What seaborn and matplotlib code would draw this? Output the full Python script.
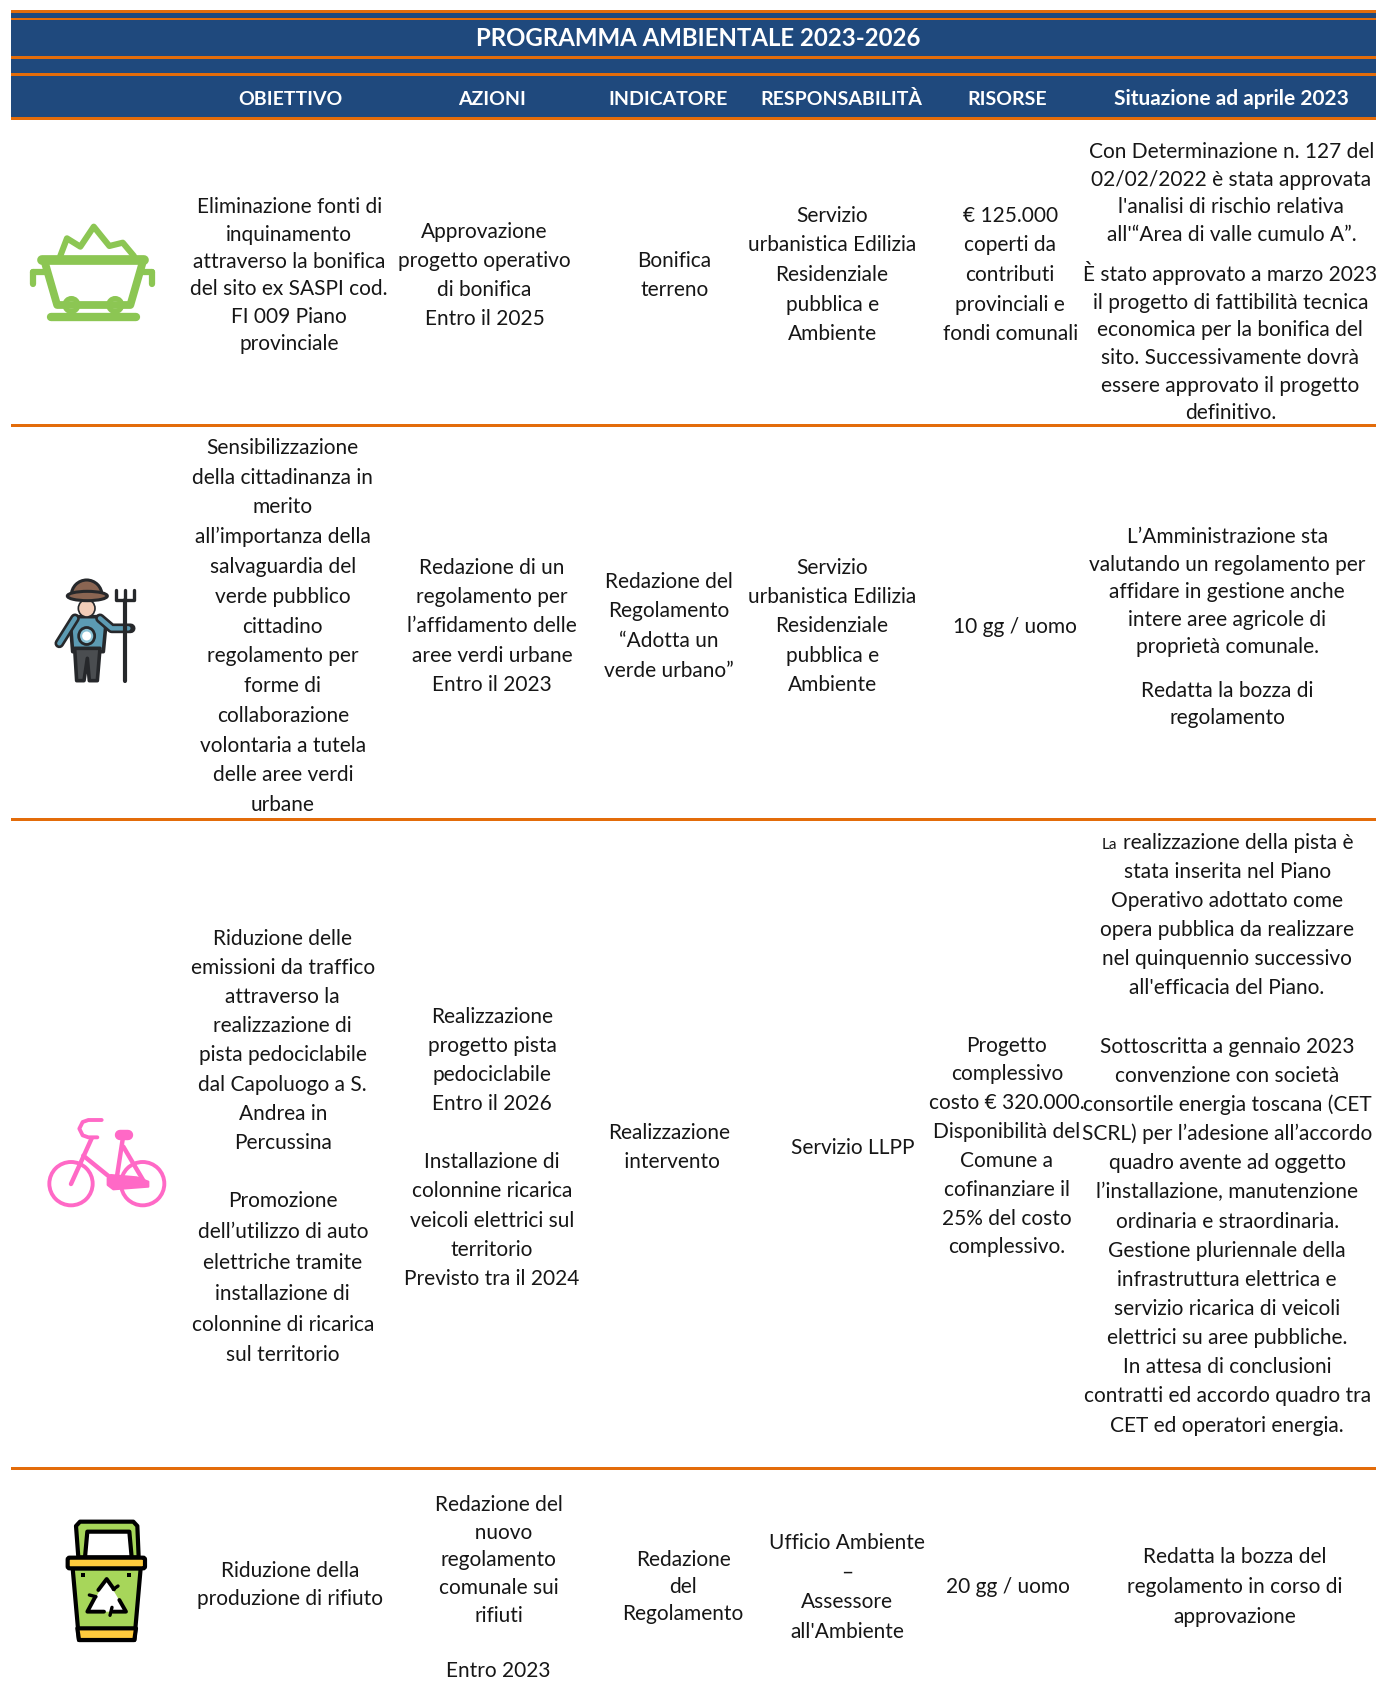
import matplotlib
matplotlib.use('Agg')
import matplotlib.pyplot as plt
from matplotlib.patches import Circle, Ellipse, FancyBboxPatch, Polygon, Rectangle, Wedge
import seaborn as sns

NAVY = '#1F497D'
ORANGE = '#E36C0A'
INK = '#161616'
S = 1376 / 1275  # layout numbers below were read on the 1275 wide view

title = 'PROGRAMMA AMBIENTALE 2023-2026'
headers = ['OBIETTIVO', 'AZIONI', 'INDICATORE', 'RESPONSABILITÀ', 'RISORSE', 'Situazione ad aprile 2023']
header_x = [269, 456, 619, 780, 933, 1141]
header_size = [14, 14, 14, 14, 14, 15]

obiettivo = [
    'Eliminazione fonti di\ninquinamento\nattraverso la bonifica\ndel sito ex SASPI cod.\nFI 009 Piano\nprovinciale',
    'Sensibilizzazione\ndella cittadinanza in\nmerito\nall’importanza della\nsalvaguardia del\nverde pubblico\ncittadino\nregolamento per\nforme di\ncollaborazione\nvolontaria a tutela\ndelle aree verdi\nurbane',
    'Riduzione delle\nemissioni da traffico\nattraverso la\nrealizzazione di\npista pedociclabile\ndal Capoluogo a S.\nAndrea in\nPercussina',
    'Promozione\ndell’utilizzo di auto\nelettriche tramite\ninstallazione di\ncolonnine di ricarica\nsul territorio',
    'Riduzione della\nproduzione di rifiuto',
]
azioni = [
    'Approvazione\nprogetto operativo\ndi bonifica\nEntro il 2025',
    'Redazione di un\nregolamento per\nl’affidamento delle\naree verdi urbane\nEntro il 2023',
    'Realizzazione\nprogetto pista\npedociclabile\nEntro il 2026',
    'Installazione di\ncolonnine ricarica\nveicoli elettrici sul\nterritorio\nPrevisto tra il 2024',
    'Redazione del\n  nuovo\nregolamento\ncomunale sui\nrifiuti',
    'Entro 2023',
]
indicatore = [
    'Bonifica\nterreno',
    'Redazione del\nRegolamento\n“Adotta un\nverde urbano”',
    'Realizzazione\n intervento',
    'Redazione\ndel\nRegolamento',
]
responsabilita = [
    'Servizio\nurbanistica Edilizia\nResidenziale\npubblica e\nAmbiente',
    'Servizio\nurbanistica Edilizia\nResidenziale\npubblica e\nAmbiente',
    'Servizio LLPP',
    'Ufficio Ambiente\n–\nAssessore\nall\'Ambiente',
]
risorse = [
    '€ 125.000\ncoperti da\ncontributi\nprovinciali e\nfondi comunali',
    '10 gg / uomo',
    'Progetto\ncomplessivo\ncosto € 320.000.\nDisponibilità del\nComune a\ncofinanziare il\n25% del costo\ncomplessivo.',
    '20 gg / uomo',
]
situazione = [
    'Con Determinazione n. 127 del\n02/02/2022 è stata approvata\nl\'analisi di rischio relativa\nall\'“Area di valle cumulo A”.',
    'È stato approvato a marzo 2023\nil progetto di fattibilità tecnica\neconomica per la bonifica del\nsito. Successivamente dovrà\nessere approvato il progetto\ndefinitivo.',
    'L’Amministrazione sta\nvalutando un regolamento per\naffidare in gestione anche\nintere aree agricole di\nproprietà comunale.',
    'Redatta la bozza di\nregolamento',
    'realizzazione della pista è',
    'stata inserita nel Piano\nOperativo adottato come\nopera pubblica da realizzare\nnel quinquennio successivo\nall\'efficacia del Piano.',
    'Sottoscritta a gennaio 2023\nconvenzione con società\nconsortile energia toscana (CET\nSCRL) per l’adesione all’accordo\nquadro avente ad oggetto\nl’installazione, manutenzione\nordinaria e straordinaria.\nGestione pluriennale della\ninfrastruttura elettrica e\nservizio ricarica di veicoli\nelettrici su aree pubbliche.\nIn attesa di conclusioni\ncontratti ed accordo quadro tra\nCET ed operatori energia.',
    'Redatta la bozza del\nregolamento in corso di\napprovazione',
]

# (text, x centre, y of first line, line step)
layout = [
    (obiettivo[0], 268, 191, 25.4), (obiettivo[1], 262, 414, 27.6), (obiettivo[2], 262, 869, 27),
    (obiettivo[3], 262, 1112, 28.6), (obiettivo[4], 269, 1455, 26),
    (azioni[0], 449, 214, 27), (azioni[1], 456, 525, 27.2), (azioni[2], 456, 941, 27),
    (azioni[3], 456, 1076, 27), (azioni[4], 462, 1394, 25.5), (azioni[5], 462, 1547, 25),
    (indicatore[0], 625, 241, 27), (indicatore[1], 620, 538, 27.6), (indicatore[2], 620, 1049, 27),
    (indicatore[3], 633, 1445, 25),
    (responsabilita[0], 771, 199, 27.5), (responsabilita[1], 771, 525, 27.2),
    (responsabilita[2], 790, 1063, 27), (responsabilita[3], 785, 1429, 27.3),
    (risorse[0], 936, 199, 27.5), (risorse[1], 940, 580, 27), (risorse[2], 933, 968, 26.7),
    (risorse[3], 934, 1470, 27),
    (situazione[0], 1141, 140, 25.6), (situazione[1], 1140, 254, 25.6), (situazione[2], 1137, 497, 25.5),
    (situazione[3], 1137, 639, 25.5), (situazione[4], 1147, 780, 27), (situazione[5], 1137, 807, 27),
    (situazione[6], 1137, 969, 27), (situazione[7], 1144, 1442, 27.5),
]

# y spans of the header bands, then the row rules
orange_bands = [(10, 13), (18, 20), (56, 59), (73, 76), (117, 120)]
rule_y = [426, 820, 1469]

sns.set_theme(style='white')
plt.rcParams['font.family'] = ['Lato', 'DejaVu Sans']

fig = plt.figure(figsize=(13.76, 16.92), dpi=100)
ax = fig.add_axes([0, 0, 1, 1])
ax.set_xlim(0, 1376)
ax.set_ylim(1692, 0)
ax.axis('off')
sns.despine(ax=ax, left=True, bottom=True)

# header
ax.add_patch(Rectangle((11, 10), 1365, 110, fc=NAVY, ec='none'))
for y0, y1 in orange_bands:
    ax.add_patch(Rectangle((11, y0), 1365, y1 - y0, fc=ORANGE, ec='none'))
for y in rule_y:
    ax.add_patch(Rectangle((11, y - 1.5), 1365, 3, fc=ORANGE, ec='none'))
ax.text(647 * S, 34 * S + 9, title, color='white', weight='bold', fontsize=17.3, ha='center', va='baseline')
for lab, x, fs in zip(headers, header_x, header_size):
    ax.text(x * S, 90 * S + 8, lab, color='white', weight='bold', fontsize=fs, ha='center', va='baseline')

# body text
for txt, x, y0, dy in layout:
    for i, line in enumerate(txt.split('\n')):
        ax.text(x * S, (y0 + i * dy) * S + 7, line, color=INK, fontsize=15, ha='center', va='baseline')
ax.text(1028 * S, 780 * S + 7, 'La', color=INK, fontsize=11, ha='center', va='baseline')


# icons, coordinates are local to each icon box
def to_px(pts, ox, oy, sx, sy):
    return [(ox + x / sx, oy + y / sy) for x, y in pts]


def stroke(pts, ox, oy, sx, sy, color, lw):
    p = to_px(pts, ox, oy, sx, sy)
    ax.plot([a for a, b in p], [b for a, b in p], color=color, lw=lw, solid_capstyle='round', solid_joinstyle='round')


def fill(pts, ox, oy, sx, sy, fc, ec='none', lw=0):
    ax.add_patch(Polygon(to_px(pts, ox, oy, sx, sy), fc=fc, ec=ec, lw=lw, joinstyle='round'))


# cart
g = '#8CC653'
cart = (0, 0, 2.24, 3)
stroke([(135, 768), (150, 715), (180, 740), (210, 680), (245, 738), (275, 728), (300, 768)], *cart, g, 4.4)
stroke([(95, 780), (322, 780)], *cart, g, 7)
stroke([(100, 785), (128, 915), (292, 915), (320, 785)], *cart, g, 5.6)
stroke([(75, 815), (75, 852)], *cart, g, 4.5)
stroke([(75, 817), (100, 817)], *cart, g, 4.5)
stroke([(340, 815), (340, 852)], *cart, g, 4.5)
stroke([(340, 817), (318, 817)], *cart, g, 4.5)
stroke([(115, 952), (305, 952)], *cart, g, 6)
for cx in (160, 258):
    ax.add_patch(Ellipse((cx / 2.24, 915 / 3), 13, 13, fc='white', ec=g, lw=3.6))

# farmer
fm = (0, 520, 3, 3)
blk = '#26282B'
fill([(225, 290), (300, 290), (318, 310), (310, 395), (218, 395), (212, 320)], *fm, '#5C9BB3', blk, 2.6)
stroke([(225, 295), (178, 370)], *fm, blk, 7)
stroke([(225, 295), (178, 370)], *fm, '#5C9BB3', 3.2)
stroke([(300, 295), (335, 325), (392, 325)], *fm, blk, 7)
stroke([(300, 295), (335, 325), (385, 325)], *fm, '#5C9BB3', 3.2)
fill([(224, 385), (300, 385), (292, 482), (268, 482), (262, 415), (252, 482), (230, 482)], *fm, '#4A4D50', blk, 2.6)
ax.add_patch(Ellipse((260 / 3, 520 + 348 / 3), 16, 17, fc='#8CC3D6', ec=blk, lw=2))
ax.add_patch(Circle((260 / 3, 520 + 348 / 3), 4.5, fc='white', ec='none'))
ax.add_patch(Ellipse((260 / 3, 520 + 265 / 3), 50 / 3, 52 / 3, fc='#F2CDB8', ec=blk, lw=1.2))
ax.add_patch(Wedge((260 / 3, 520 + 226 / 3), 46 / 3, 180, 360, fc='#8A6552', ec=blk, lw=2.2))
ax.add_patch(Ellipse((262 / 3, 520 + 228 / 3), 120 / 3, 28 / 3, fc='#8A6552', ec=blk, lw=2.2))
stroke([(375, 240), (375, 482)], *fm, blk, 3)
stroke([(348, 210), (348, 240), (402, 240), (402, 210)], *fm, blk, 2.4)
stroke([(375, 210), (375, 240)], *fm, blk, 2.4)

# bike
p = '#FF69C6'
bk = (20, 1090, 3, 3)
for cx in (153, 368):
    ax.add_patch(Circle((20 + cx / 3, 1090 + 281 / 3), 65 / 3, fc='none', ec=p, lw=2.8))
stroke([(245, 90), (205, 90), (188, 96), (178, 116), (188, 136), (205, 142), (232, 142)], *bk, p, 2.8)
stroke([(215, 145), (153, 282)], *bk, p, 3.2)
stroke([(190, 197), (280, 270)], *bk, p, 3.2)
stroke([(310, 135), (290, 265)], *bk, p, 3.2)
stroke([(310, 170), (375, 280)], *bk, p, 3.2)
stroke([(300, 135), (325, 135)], *bk, p, 7.5)
fill([(272, 255), (350, 262), (385, 275), (385, 290), (280, 298), (263, 285), (263, 265)], *bk, p, p, 1.5)

# bin
bn = (40, 1500, 3, 3)
lg = '#A7D65A'
yl = '#FFCB3D'
fill([(115, 172), (108, 78), (120, 65), (280, 65), (292, 78), (296, 172)], *bn, lg, 'black', 3)
fill([(135, 172), (142, 95), (268, 95), (275, 172)], *bn, 'white', 'black', 3)
fill([(98, 205), (302, 205), (283, 420), (117, 420)], *bn, lg, 'black', 3)
fill([(112, 385), (288, 385), (283, 420), (117, 420)], *bn, yl, 'black', 3)
ax.add_patch(FancyBboxPatch((40 + 86 / 3, 1500 + 176 / 3), 226 / 3, 26 / 3, boxstyle='round,pad=1,rounding_size=2',
                            fc=yl, ec='black', lw=3))
for sqx in (130, 268):
    ax.add_patch(Rectangle((40 + (sqx - 6) / 3, 1500 + 219 / 3), 4, 4, fc='black', ec='none'))
fill([(200, 237), (258, 335), (142, 335)], *bn, 'white')
stroke([(175, 270), (200, 237), (222, 268)], *bn, 'black', 2.8)
stroke([(238, 300), (258, 335), (218, 335)], *bn, 'black', 2.8)
stroke([(192, 335), (142, 335), (165, 292)], *bn, 'black', 2.8)
stroke([(148, 285), (168, 290)], *bn, 'black', 2.4)
stroke([(216, 322), (210, 346)], *bn, 'black', 2.4)
stroke([(220, 268), (234, 258)], *bn, 'black', 2.4)

fig.savefig('out.png', dpi=100)
